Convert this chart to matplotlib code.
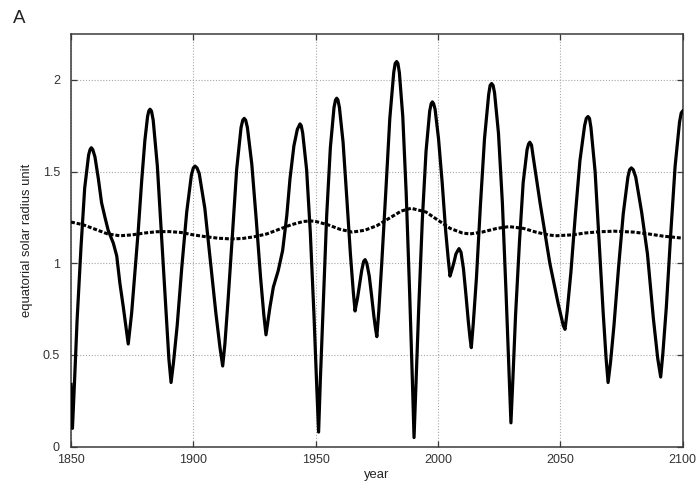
import numpy as np
import matplotlib
matplotlib.use('Agg')
import matplotlib.pyplot as plt

plt.rcParams['font.family'] = ['Liberation Sans', 'DejaVu Sans']

###############################################################################
# Data
###############################################################################
# solid curve (oscillating radius)
years_solid = [
    1850.0, 1850.6, 1851.4, 1852.5, 1854.1, 1855.6, 1857.2, 1857.8, 1858.3,
    1858.9, 1859.8, 1861.2, 1862.5, 1863.9, 1865.2, 1867.3, 1868.7, 1870.0,
    1871.4, 1872.8, 1873.4, 1874.8, 1876.2, 1877.5, 1878.9, 1880.2, 1881.3,
    1881.8, 1882.3, 1882.9, 1883.6, 1885.3, 1887.0, 1888.8, 1890.0, 1890.9,
    1891.9, 1893.4, 1895.3, 1897.3, 1899.2, 1900.0, 1900.7, 1901.5, 1902.4,
    1904.7, 1906.9, 1909.2, 1910.9, 1912.0, 1912.9, 1914.2, 1916.0, 1917.7,
    1919.5, 1920.2, 1920.8, 1921.4, 1922.1, 1923.9, 1925.7, 1927.5, 1928.8,
    1929.7, 1931.3, 1932.7, 1934.7, 1936.5, 1938.2, 1939.5, 1941.1, 1942.5,
    1943.6, 1944.1, 1944.7, 1946.3, 1947.8, 1949.3, 1950.4, 1951.2, 1951.9,
    1953.1, 1954.5, 1956.0, 1957.5, 1958.1, 1958.6, 1959.1, 1959.7, 1961.2,
    1962.7, 1964.2, 1965.4, 1966.1, 1966.5, 1967.1, 1968.0, 1968.8, 1969.6,
    1970.2, 1970.9, 1971.9, 1972.8, 1973.8, 1974.5, 1975.0, 1975.8, 1977.0,
    1978.7, 1980.3, 1981.9, 1982.5, 1983.1, 1983.6, 1984.2, 1985.6, 1987.0,
    1988.4, 1989.5, 1990.2, 1991.0, 1992.1, 1993.6, 1995.1, 1996.6, 1997.2,
    1997.7, 1998.2, 1998.8, 2000.2, 2001.7, 2003.1, 2004.2, 2004.9, 2005.8,
    2006.6, 2007.3, 2008.1, 2008.6, 2009.4, 2010.4, 2011.4, 2012.4, 2013.1,
    2013.6, 2014.4, 2015.7, 2017.3, 2019.0, 2020.7, 2021.3, 2021.9, 2022.5,
    2023.1, 2024.7, 2026.3, 2027.8, 2029.0, 2029.8, 2030.6, 2031.7, 2033.3,
    2034.8, 2036.4, 2037.0, 2037.5, 2038.2, 2038.9, 2041.7, 2045.7, 2049.1,
    2051.2, 2051.9, 2052.8, 2054.3, 2056.1, 2058.0, 2059.9, 2060.6, 2061.3,
    2061.9, 2062.5, 2064.2, 2065.8, 2067.5, 2068.7, 2069.5, 2070.5, 2071.9,
    2073.8, 2075.7, 2077.6, 2078.3, 2079.0, 2079.8, 2080.8, 2083.2, 2085.6,
    2088.0, 2089.8, 2091.0, 2091.9, 2093.3, 2095.1, 2096.9, 2098.7, 2099.4,
    2100.0]
radius_solid = [
    0.34, 0.10, 0.34, 0.69, 1.09, 1.41, 1.59, 1.62, 1.63,
    1.62, 1.58, 1.46, 1.33, 1.25, 1.18, 1.11, 1.04, 0.89,
    0.76, 0.62, 0.56, 0.73, 0.96, 1.18, 1.45, 1.67, 1.80,
    1.83, 1.84, 1.83, 1.78, 1.53, 1.15, 0.75, 0.48, 0.35,
    0.46, 0.66, 0.98, 1.28, 1.48, 1.52, 1.53, 1.52, 1.49,
    1.30, 1.02, 0.73, 0.54, 0.44, 0.56, 0.80, 1.16, 1.51,
    1.74, 1.78, 1.79, 1.78, 1.74, 1.54, 1.24, 0.92, 0.72,
    0.61, 0.76, 0.87, 0.96, 1.07, 1.26, 1.46, 1.64, 1.73,
    1.76, 1.75, 1.71, 1.51, 1.17, 0.72, 0.34, 0.08, 0.36,
    0.78, 1.26, 1.63, 1.85, 1.89, 1.90, 1.89, 1.85, 1.66,
    1.36, 1.05, 0.84, 0.74, 0.77, 0.81, 0.89, 0.96, 1.01,
    1.02, 1.00, 0.93, 0.83, 0.71, 0.64, 0.60, 0.74, 1.00,
    1.40, 1.79, 2.04, 2.09, 2.10, 2.09, 2.04, 1.80, 1.38,
    0.84, 0.37, 0.05, 0.34, 0.75, 1.24, 1.61, 1.83, 1.87,
    1.88, 1.87, 1.84, 1.68, 1.44, 1.18, 1.02, 0.93, 0.97,
    1.01, 1.05, 1.07, 1.08, 1.06, 0.97, 0.83, 0.68, 0.59,
    0.54, 0.67, 0.92, 1.31, 1.68, 1.92, 1.97, 1.98, 1.97,
    1.93, 1.71, 1.33, 0.84, 0.42, 0.13, 0.37, 0.72, 1.12,
    1.44, 1.62, 1.65, 1.66, 1.645, 1.58, 1.33, 1.00, 0.78,
    0.66, 0.64, 0.74, 0.95, 1.26, 1.56, 1.75, 1.79, 1.80,
    1.79, 1.74, 1.50, 1.13, 0.73, 0.48, 0.35, 0.46, 0.66,
    0.98, 1.27, 1.47, 1.51, 1.52, 1.51, 1.47, 1.28, 1.05,
    0.70, 0.48, 0.38, 0.51, 0.76, 1.16, 1.53, 1.77, 1.82,
    1.83]

# dashed curve (slowly varying radius)
years_mean = [
    1850, 1855, 1860, 1865, 1870, 1875, 1880, 1885, 1890, 1895, 1900, 1905,
    1910, 1915, 1920, 1925, 1930, 1935, 1940, 1945, 1948, 1950, 1955, 1960,
    1965, 1970, 1975, 1980, 1985, 1989, 1995, 2000, 2005, 2010, 2013, 2018,
    2024, 2029, 2035, 2040, 2045, 2048, 2055, 2060, 2066, 2072, 2080, 2086,
    2092, 2100]
radius_mean = [
    1.225, 1.21, 1.185, 1.16, 1.15, 1.155, 1.165, 1.172, 1.173, 1.168, 1.155,
    1.145, 1.137, 1.133, 1.135, 1.145, 1.16, 1.185, 1.21, 1.228, 1.231, 1.228,
    1.21, 1.185, 1.17, 1.18, 1.205, 1.245, 1.285, 1.30, 1.28, 1.235, 1.19,
    1.165, 1.16, 1.17, 1.19, 1.20, 1.19, 1.17, 1.155, 1.15, 1.155, 1.165,
    1.172, 1.175, 1.17, 1.16, 1.148, 1.137]

x_ticks = [1850, 1900, 1950, 2000, 2050, 2100]
y_ticks = [0, 0.5, 1, 1.5, 2]
y_tick_labels = ['0', '0.5', '1', '1.5', '2']

###############################################################################
# Figure
###############################################################################
fig = plt.figure(figsize=(7.0, 4.93), dpi=100)
ax = fig.add_axes([0.1014, 0.0939, 0.8739, 0.8371])

ax.plot(years_solid, radius_solid, color='black', linewidth=2.3,
        solid_joinstyle='round', zorder=3)
ax.plot(years_mean, radius_mean, color='black', linewidth=2.2,
        linestyle=(0, (1.3, 0.6)), zorder=3)

ax.set_xlim(1850, 2100)
ax.set_ylim(0, 2.25)
ax.set_xticks(x_ticks)
ax.set_yticks(y_ticks)
ax.set_yticklabels(y_tick_labels)

ax.grid(True, color='#a8a8a8', linestyle=(0, (1, 1.6)), linewidth=0.8)
ax.set_axisbelow(True)

for s in ax.spines.values():
    s.set_color('#3a3a3a')
    s.set_linewidth(1.1)

ax.tick_params(direction='in', length=4, width=0.9, color='#3a3a3a',
               top=True, right=True, labelsize=9, labelcolor='#333333')
ax.tick_params(axis='y', pad=8)
ax.tick_params(axis='x', pad=5)

ax.set_xlabel('year', fontsize=9.4, color='#222222')
ax.set_ylabel('equatorial solar radius unit', fontsize=9.4, color='#222222')
ax.xaxis.set_label_coords(0.5, -0.055)
ax.yaxis.set_label_coords(-0.062, 0.5)

fig.text(13 / 700, 1 - 23 / 493, 'A', fontsize=13.5, color='#222222')

plt.savefig('out.png', dpi=100)
